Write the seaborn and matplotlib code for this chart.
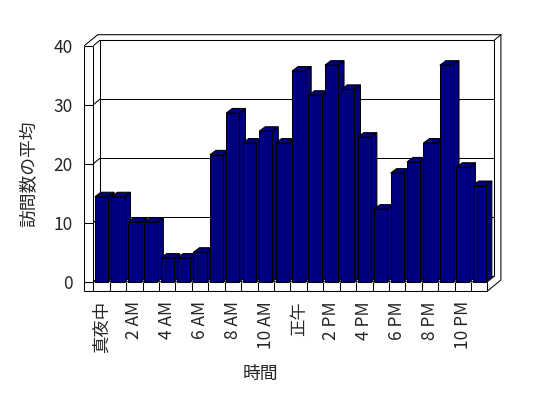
import numpy as np
import pandas as pd
import matplotlib
matplotlib.use("Agg")
import matplotlib.pyplot as plt
import seaborn as sns
from matplotlib.lines import Line2D
from matplotlib.patches import Polygon
from matplotlib.transforms import IdentityTransform

# ---- data ----
hours = ['真夜中', '1 AM', '2 AM', '3 AM', '4 AM', '5 AM', '6 AM', '7 AM',
         '8 AM', '9 AM', '10 AM', '11 AM', '正午', '1 PM', '2 PM', '3 PM',
         '4 PM', '5 PM', '6 PM', '7 PM', '8 PM', '9 PM', '10 PM', '11 PM']
visits = [14.4, 14.4, 10.1, 10.1, 4.0, 4.0, 5.0, 21.5, 28.6, 23.5, 25.5, 23.5,
          35.7, 31.6, 36.7, 32.6, 24.5, 12.3, 18.4, 20.3, 23.5, 36.7, 19.4, 16.3]
shown_labels = ['真夜中', '2 AM', '4 AM', '6 AM', '8 AM', '10 AM',
                '正午', '2 PM', '4 PM', '6 PM', '8 PM', '10 PM']
yticks = [0, 10, 20, 30, 40]
x_title = '時間'
y_title = '訪問数の平均'

sns.set_style("white")
plt.rcParams['font.family'] = ['Noto Sans CJK JP', 'DejaVu Sans']

W, H = 548, 398
fig = plt.figure(figsize=(W / 100, H / 100), dpi=100)
fig.patch.set_facecolor('white')
ax = fig.add_axes([93.3 / W, (H - 281.7) / H, 394.2 / W, 236 / H])

df = pd.DataFrame({x_title: hours, y_title: visits})
sns.barplot(data=df, x=x_title, y=y_title, color='#000080', saturation=1,
            width=0.8, edgecolor='black', linewidth=0.75, ax=ax)
ax.set_xlim(-0.5, len(hours) - 0.5)
ax.set_ylim(0, 40)
for s in ax.spines.values():
    s.set_visible(False)
ax.patch.set_visible(False)
ax.grid(False)
ax.set_xticks(range(0, len(hours), 2))
ax.set_xticklabels(shown_labels, rotation=90, fontsize=12.5)
ax.set_yticks(yticks)
ax.set_yticklabels([str(v) for v in yticks], fontsize=12.5)
ax.tick_params(axis='x', length=0, pad=14)
ax.tick_params(axis='y', length=0, pad=15)
ax.set_xlabel('')
ax.set_ylabel('')

T = ax.transData
def P(x, y):
    return T.transform((x, y))

x0, y0 = P(-0.5, 0)
x1, y1 = P(len(hours) - 0.5, 40)
D0, D1 = 6.7, 5.5      # wall depth offset (pixels)
LW = 9.0               # left wall thickness
FT = 9.3               # floor thickness
lw = 0.75

def seg(pts, z=1):
    xs, ys = zip(*pts)
    ax.add_line(Line2D(xs, ys, transform=IdentityTransform(), color='black',
                       lw=lw, clip_on=False, zorder=z, solid_capstyle='butt'))

# back wall
seg([(x0 + D0, y0 + D1), (x0 + D0, y1 + D1), (x1 + D0, y1 + D1), (x1 + D0, y0 + D1)])
for v in yticks:
    yv = P(0, v)[1]
    seg([(x0 + D0, yv + D1), (x1 + D0, yv + D1)])
    seg([(x0, yv), (x0 + D0, yv + D1)])
    seg([(x0 - LW, yv), (x0, yv)])
# left wall
seg([(x0 - LW, y1), (x0 - LW, y0 - FT)])
seg([(x0, y1), (x0, y0)])
seg([(x0 - LW, y1), (x0 - LW + 2 * D0, y1 + 2 * D1), (x1 + 2 * D0, y1 + 2 * D1),
     (x1 + 2 * D0, y0 - FT + 2 * D1)])
seg([(x1 + D0, y1 + D1), (x1 + 2 * D0, y1 + 2 * D1)])
# floor
seg([(x0 - LW, y0 - FT), (x1, y0 - FT), (x1, y0)])
seg([(x0, y0), (x1, y0), (x1 + D0, y0 + D1)])
seg([(x1, y0 - FT), (x1 + 2 * D0, y0 - FT + 2 * D1)])
for k in range(len(hours) + 1):
    xb = P(k - 0.5, 0)[0]
    seg([(xb, y0), (xb, y0 - FT)])

# 3D bar faces
dxb, dyb = 6.0, 4.5
for i, p in enumerate(ax.patches):
    bx, bw, bh = p.get_x(), p.get_width(), p.get_height()
    (ax0, ay0) = P(bx, 0)
    (ax1, ay1) = P(bx + bw, bh)
    top = [(ax0, ay1), (ax1, ay1), (ax1 + dxb, ay1 + dyb), (ax0 + dxb, ay1 + dyb)]
    side = [(ax1, ay1), (ax1 + dxb, ay1 + dyb), (ax1 + dxb, ay0 + dyb), (ax1, ay0)]
    for poly in (side, top):
        ax.add_patch(Polygon(poly, closed=True, facecolor='#000080', edgecolor='black',
                             lw=lw, transform=IdentityTransform(), clip_on=False,
                             zorder=3 + 2 * i))
    p.set_zorder(4 + 2 * i)
    p.set_clip_on(False)

fig.text(29 / W, 1 - 174 / H, y_title, rotation=90, ha='center', va='center', fontsize=12.8)
fig.text(260 / W, 1 - 373.5 / H, x_title, ha='center', va='center', fontsize=12.8)

fig.savefig('out.png', dpi=100, facecolor='white')
